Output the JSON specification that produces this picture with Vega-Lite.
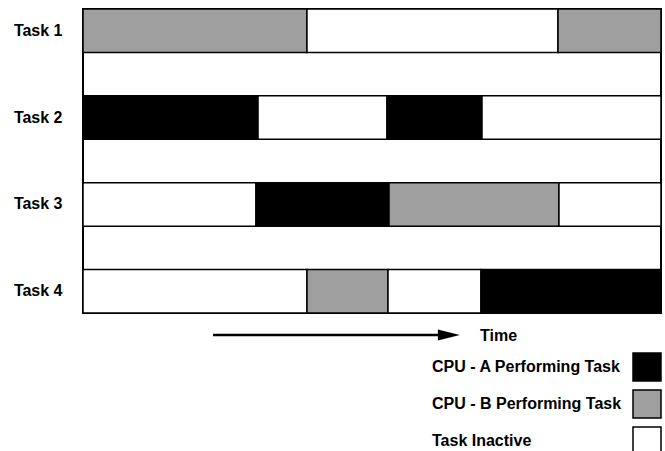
{
  "$schema": "https://vega.github.io/schema/vega-lite/v6.json",
  "autosize": "none",
  "padding": {"left": 83, "top": 9, "right": 4, "bottom": 138},
  "background": "white",
  "datasets": {
    "segments": [
      {"task": "Task 1", "start": 0, "end": 38.75, "state": "CPU - B Performing Task"},
      {"task": "Task 1", "start": 38.75, "end": 82.18, "state": "Task Inactive"},
      {"task": "Task 1", "start": 82.18, "end": 100, "state": "CPU - B Performing Task"},
      {"task": "Task 2", "start": 0, "end": 30.28, "state": "CPU - A Performing Task"},
      {"task": "Task 2", "start": 30.28, "end": 52.6, "state": "Task Inactive"},
      {"task": "Task 2", "start": 52.6, "end": 69.03, "state": "CPU - A Performing Task"},
      {"task": "Task 2", "start": 69.03, "end": 100, "state": "Task Inactive"},
      {"task": "Task 3", "start": 0, "end": 29.93, "state": "Task Inactive"},
      {"task": "Task 3", "start": 29.93, "end": 52.94, "state": "CPU - A Performing Task"},
      {"task": "Task 3", "start": 52.94, "end": 82.35, "state": "CPU - B Performing Task"},
      {"task": "Task 3", "start": 82.35, "end": 100, "state": "Task Inactive"},
      {"task": "Task 4", "start": 0, "end": 38.75, "state": "Task Inactive"},
      {"task": "Task 4", "start": 38.75, "end": 52.77, "state": "CPU - B Performing Task"},
      {"task": "Task 4", "start": 52.77, "end": 68.86, "state": "Task Inactive"},
      {"task": "Task 4", "start": 68.86, "end": 100, "state": "CPU - A Performing Task"}
    ],
    "arrow": [
      {"lane": "Time", "start": 22.5, "head": 63.3, "label": "Time", "labelAt": 68.7}
    ]
  },
  "config": {
    "font": "Liberation Sans",
    "legend": {"padding": 0, "offset": 0},
    "view": {"stroke": "black", "strokeWidth": 2}
  },
  "width": 578,
  "height": 304,
  "resolve": {"scale": {"y": "independent"}},
  "layer": [
    {
      "data": {"name": "segments"},
      "mark": {"type": "bar", "stroke": "black", "strokeWidth": 1.5, "strokeJoin": "miter"},
      "encoding": {
        "y": {
          "field": "task",
          "type": "nominal",
          "scale": {"domain": ["Task 1", "Task 2", "Task 3", "Task 4"], "paddingInner": 0.5, "paddingOuter": 0},
          "axis": {
            "title": null,
            "domain": false,
            "ticks": false,
            "labelFont": "Liberation Sans",
            "labelFontSize": 16,
            "labelFontWeight": "bold",
            "labelColor": "black",
            "labelPadding": 21
          }
        },
        "x": {"field": "start", "type": "quantitative", "scale": {"domain": [0, 100], "nice": false, "zero": false}, "axis": null},
        "x2": {"field": "end"},
        "fill": {
          "field": "state",
          "type": "nominal",
          "scale": {
            "domain": ["CPU - A Performing Task", "CPU - B Performing Task", "Task Inactive"],
            "range": ["#000000", "#9f9f9f", "#ffffff"]
          },
          "legend": {
            "orient": "none",
            "legendX": 549,
            "legendY": 343,
            "title": null,
            "symbolType": "square",
            "symbolSize": 784,
            "symbolStrokeColor": "black",
            "symbolStrokeWidth": 1.5,
            "labelFont": "Liberation Sans",
            "labelFontSize": 16,
            "labelFontWeight": "bold",
            "labelColor": "black",
            "labelOffset": -230,
            "labelLimit": 400,
            "rowPadding": 3
          }
        }
      }
    },
    {
      "data": {"name": "arrow"},
      "mark": {"type": "rule", "color": "black", "strokeWidth": 2.5},
      "encoding": {
        "y": {"field": "lane", "type": "nominal", "scale": {"type": "band", "range": [304, 348], "paddingInner": 0, "paddingOuter": 0}, "axis": null},
        "x": {"field": "start", "type": "quantitative"},
        "x2": {"field": "head"}
      }
    },
    {
      "data": {"name": "arrow"},
      "mark": {"type": "point", "shape": "M-1,-0.5L1,0L-1,0.5Z", "filled": true, "color": "black", "opacity": 1, "size": 484},
      "encoding": {
        "y": {"field": "lane", "type": "nominal", "scale": {"type": "band", "range": [304, 348], "paddingInner": 0, "paddingOuter": 0}, "axis": null},
        "x": {"field": "head", "type": "quantitative"}
      }
    },
    {
      "data": {"name": "arrow"},
      "mark": {"type": "text", "align": "left", "baseline": "middle", "font": "Liberation Sans", "fontSize": 16, "fontWeight": "bold", "color": "black", "dy": 1},
      "encoding": {
        "y": {"field": "lane", "type": "nominal", "scale": {"type": "band", "range": [304, 348], "paddingInner": 0, "paddingOuter": 0}, "axis": null},
        "x": {"field": "labelAt", "type": "quantitative"},
        "text": {"field": "label"}
      }
    }
  ]
}
